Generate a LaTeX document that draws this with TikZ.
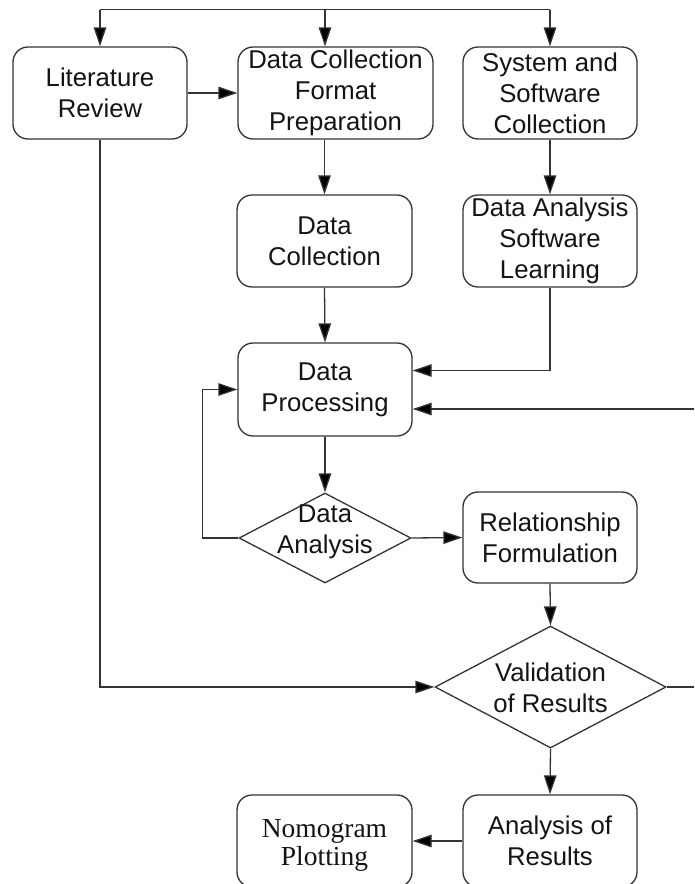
\documentclass[tikz,border=0pt]{standalone}
\usepackage{fontspec}
\setmainfont{Liberation Sans}
\newfontfamily\serifface{Liberation Serif}
\usetikzlibrary{arrows.meta,shapes.geometric}

\tikzset{
  outline/.style={draw=black!80, line width=1.3pt},
  stepbox/.style={outline, rounded corners=15pt, minimum width=174pt,
    minimum height=92pt, inner sep=0pt, align=center, text=black!92,
    font=\fontsize{25.7}{31}\selectfont},
  decision/.style={outline, diamond, inner sep=0pt},
  decisiontext/.style={inner sep=0pt, align=center, text=black!92,
    font=\fontsize{25.7}{31}\selectfont},
  flow/.style={outline, -{Triangle[length=19pt,width=12.5pt,fill=black]}},
  plain/.style={outline}
}

\begin{document}
\begin{tikzpicture}[x=1pt,y=-1pt]
  \useasboundingbox (0,0) rectangle (694,884);
  \fill[white] (0,0) rectangle (694,884);
  \clip (0,0) rectangle (694,884);

  % process steps
  \node[stepbox] (lit) at (100,93) {Literature\\Review};
  \node[stepbox, minimum width=195pt] (dcfp) at (335.5,93) {Data Collection\\Format\\Preparation};
  \node[stepbox] (ssc) at (550,93) {System and\\Software\\Collection};
  \node[stepbox, minimum width=175pt] (dc) at (324.5,241) {Data\\Collection};
  \node[stepbox] (dasl) at (550,241) {Data Analysis\\Software\\Learning};
  \node[stepbox, minimum height=93pt] (dp) at (325,389.5) {Data\\Processing};
  \node[stepbox, minimum height=91pt] (rf) at (550,537.5) {Relationship\\Formulation};
  \node[stepbox] (ar) at (550,841) {Analysis of\\Results};
  \node[stepbox, minimum width=175pt] (nom) at (324.5,841) {};
  \node[decisiontext, font=\serifface\fontsize{27.5}{28}\selectfont] (nomt) at (324.5,845) {Nomogram\\Plotting};

  % decisions
  \node[decision, minimum width=172pt, minimum height=90pt] (da) at (325,538) {};
  \node[decisiontext] (dat) at (325,532) {Data\\Analysis};
  \node[decision, minimum width=231pt, minimum height=122pt] (val) at (550.5,687) {};
  \node[decisiontext] (valt) at (550.5,688) {Validation\\of Results};

  % common start line along the top
  \coordinate (t1) at (100,9.5);
  \coordinate (t2) at (325,9.5);
  \coordinate (t3) at (550,9.5);
  \draw[plain] (t1) -- (t3);
  \draw[flow] (t1) -- (lit.north);
  \draw[flow] (t2) -- (t2 |- dcfp.north);
  \draw[flow] (t3) -- (ssc.north);

  % main flow
  \draw[flow] (lit.east) -- (dcfp.west);
  \draw[flow] (dc.north |- dcfp.south) -- (dc.north);
  \draw[flow] (ssc.south) -- (dasl.north);
  \draw[flow] (dc.south) -- (dp.north);
  \draw[flow] (dasl.south) |- ([yshift=19pt]dp.east);
  \draw[flow] (dp.south) -- (da.north);
  \draw[flow] (da.west) -- ++(-36,0) |- (dp.west);
  \draw[flow] (da.east) -- (rf.west);
  \draw[flow] (rf.south) -- (val.north);
  \draw[flow] (lit.south) |- (val.west);
  \draw[flow] (val.south) -- (ar.north);
  \draw[flow] (ar.west) -- (nom.east);

  % feedback from validation back to processing
  \coordinate (rt) at (705,409);
  \draw[flow] (val.east) -- (val.east -| rt) -- (rt) -- (rt -| dp.east);
\end{tikzpicture}
\end{document}
